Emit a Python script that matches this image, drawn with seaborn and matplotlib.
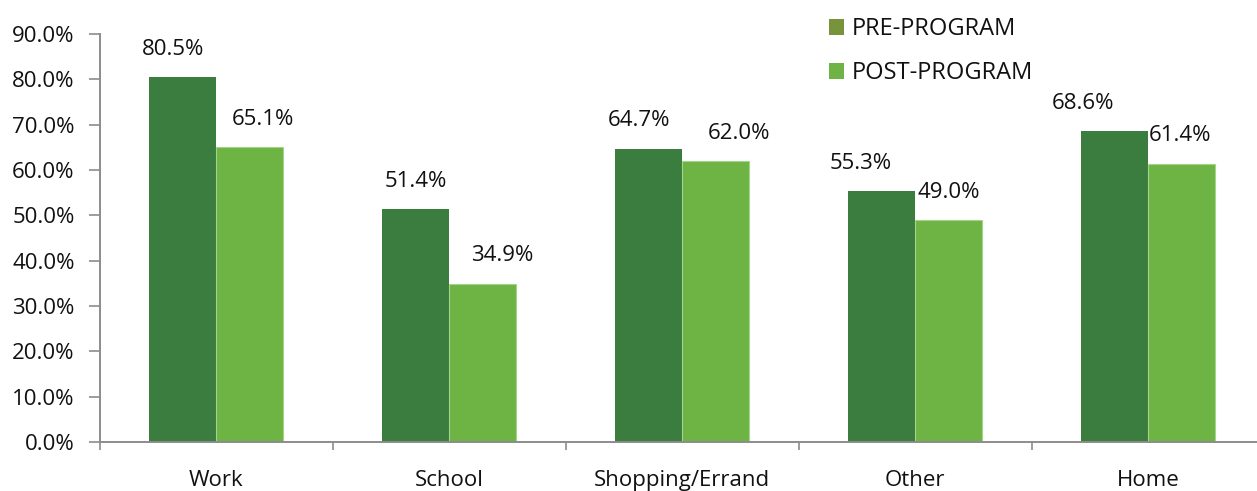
import matplotlib
matplotlib.use("Agg")
import matplotlib.pyplot as plt
from matplotlib.patches import Patch
from matplotlib.ticker import FuncFormatter, FixedLocator
import seaborn as sns
import pandas as pd

categories = ["Work", "School", "Shopping/Errand", "Other", "Home"]
pre_program = [80.5, 51.4, 64.7, 55.3, 68.6]
post_program = [65.1, 34.9, 62.0, 49.0, 61.4]
series_names = ["PRE-PROGRAM", "POST-PROGRAM"]

bar_colors = ["#3a7d3f", "#6db444"]
legend_colors = ["#77933c", "#6db444"]
text_color = "#111111"

# horizontal nudges (points) for the value labels, per series
pre_label_nudge = [-7, 0, -7, -15, -23]
post_label_nudge = [10, 14, 17, 0, -1]

df = pd.DataFrame({
    "category": categories * 2,
    "value": pre_program + post_program,
    "series": [series_names[0]] * len(categories) + [series_names[1]] * len(categories),
})

sns.set_style("white")
plt.rcParams["font.family"] = ["Open Sans", "DejaVu Sans"]

fig = plt.figure(figsize=(12.57, 4.91), dpi=100)
ax = fig.add_axes([0.0792, 0.0998, 0.9268, 0.831])

sns.barplot(data=df, x="category", y="value", hue="series", palette=bar_colors,
            width=0.575, gap=0, saturation=1, legend=False, ax=ax, edgecolor="none")

# thin light outline on the post-program bars
for bar in ax.containers[1]:
    bar.set_edgecolor("#a6d38a")
    bar.set_linewidth(0.8)

ax.set_ylim(0, 90)
ax.set_xlim(-0.5, len(categories) - 0.5)
ax.set_yticks(range(0, 91, 10))
ax.yaxis.set_major_formatter(FuncFormatter(lambda v, p: f"{v:.1f}%"))
ax.set_xlabel("")
ax.set_ylabel("")

# category labels centred, tick marks at the boundaries between groups
ax.set_xticks(range(len(categories)))
ax.set_xticklabels(categories)
ax.tick_params(axis="x", which="major", bottom=True, length=0, pad=20,
               labelsize=16, labelcolor=text_color)
ax.xaxis.set_minor_locator(FixedLocator([i + 0.5 for i in range(-1, len(categories))]))
ax.tick_params(axis="x", which="minor", bottom=True, length=6, width=1.2,
               color="#8c8c8c", direction="out")
ax.tick_params(axis="y", left=True, length=8, width=1.2, color="#8c8c8c",
               direction="out", pad=10, labelsize=16, labelcolor=text_color)

for side in ["top", "right"]:
    ax.spines[side].set_visible(False)
for side in ["left", "bottom"]:
    ax.spines[side].set_color("#8c8c8c")
    ax.spines[side].set_linewidth(1.4)

for container, nudges in zip(ax.containers, [pre_label_nudge, post_label_nudge]):
    for bar, dx in zip(container, nudges):
        h = bar.get_height()
        ax.annotate(f"{h:.1f}%", (bar.get_x() + bar.get_width() / 2, h),
                    xytext=(dx, 20), textcoords="offset points",
                    ha="center", va="center", fontsize=16, color=text_color)

handles = [Patch(facecolor=c, edgecolor="none") for c in legend_colors]
fig.legend(handles, series_names, loc="upper left", bbox_to_anchor=(0.6425, 1.008),
           frameon=False, fontsize=17, handlelength=0.65, handleheight=0.65,
           handletextpad=0.3, labelspacing=0.85, labelcolor=text_color)

fig.savefig("out.png", dpi=100)
